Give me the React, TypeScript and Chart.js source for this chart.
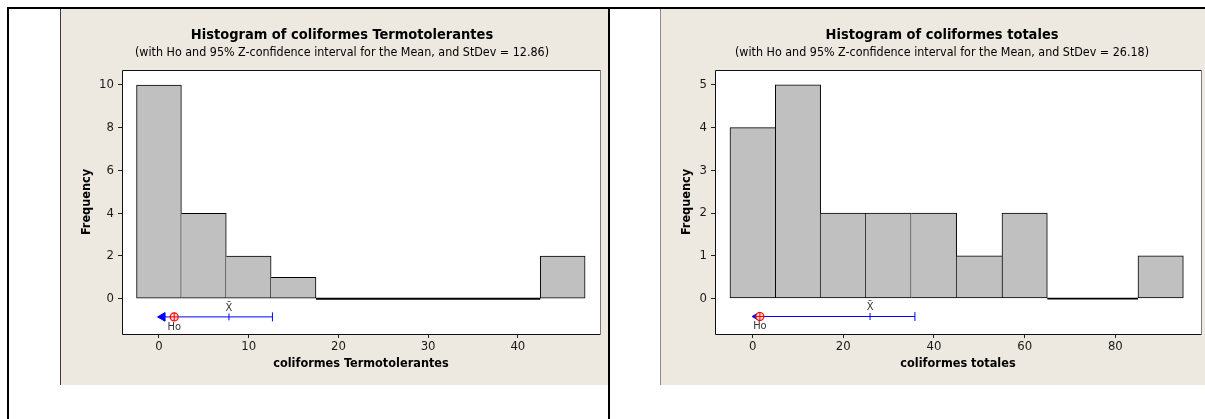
import React, { useEffect, useRef } from 'react';
import { Chart, registerables } from 'chart.js';

Chart.register(...registerables);

const FONT = "'DejaVu Sans Condensed', 'DejaVu Sans', sans-serif";

// ---- coliformes Termotolerantes ----
const termoBinCenters = [0, 5, 10, 15, 20, 25, 30, 35, 40, 45];
const termoCounts = [10, 4, 2, 1, 0, 0, 0, 0, 0, 2];
const termoXTicks = [0, 10, 20, 30, 40];
const termoYTicks = [0, 2, 4, 6, 8, 10];
const termoHo = 1.7;
const termoMean = 7.8;
const termoUpper = 12.65;
const termoArrowTip = 0.4;

// ---- coliformes totales ----
const totalBinCenters = [0, 10, 20, 30, 40, 50, 60, 70, 80, 90];
const totalCounts = [4, 5, 2, 2, 2, 1, 2, 0, 0, 1];
const totalXTicks = [0, 20, 40, 60, 80];
const totalYTicks = [0, 1, 2, 3, 4, 5];
const totalHo = 1.6;
const totalMean = 25.9;
const totalUpper = 35.8;
const totalArrowTip = 1.0;

type PanelCfg = {
  title: string;
  subtitle: string;
  xLabel: string;
  centers: number[];
  counts: number[];
  binWidth: number;
  xTicks: number[];
  yTicks: number[];
  xMin: number;
  xMax: number;
  yMin: number;
  yMax: number;
  ciY: number;
  ho: number;
  mean: number;
  upper: number;
  arrowTip: number;
  yAxisWidth: number;
  rightPad: number;
};

const termoCfg: PanelCfg = {
  title: 'Histogram of coliformes Termotolerantes',
  subtitle: '(with Ho and 95% Z-confidence interval for the Mean, and StDev = 12.86)',
  xLabel: 'coliformes Termotolerantes',
  centers: termoBinCenters,
  counts: termoCounts,
  binWidth: 5,
  xTicks: termoXTicks,
  yTicks: termoYTicks,
  xMin: -4.12,
  xMax: 49.16,
  yMin: -1.65,
  yMax: 10.7,
  ciY: -0.85,
  ho: termoHo,
  mean: termoMean,
  upper: termoUpper,
  arrowTip: termoArrowTip,
  yAxisWidth: 61,
  rightPad: 23,
};

const totalCfg: PanelCfg = {
  title: 'Histogram of coliformes totales',
  subtitle: '(with Ho and 95% Z-confidence interval for the Mean, and StDev = 26.18)',
  xLabel: 'coliformes totales',
  centers: totalBinCenters,
  counts: totalCounts,
  binWidth: 10,
  xTicks: totalXTicks,
  yTicks: totalYTicks,
  xMin: -8.3,
  xMax: 98.9,
  yMin: -0.83,
  yMax: 5.35,
  ciY: -0.42,
  ho: totalHo,
  mean: totalMean,
  upper: totalUpper,
  arrowTip: totalArrowTip,
  yAxisWidth: 54,
  rightPad: 22,
};

const CANVAS_W = 562;
const CANVAS_H = 376;

function Histogram({ cfg }: { cfg: PanelCfg }) {
  const ref = useRef<HTMLCanvasElement | null>(null);

  useEffect(() => {
    if (!ref.current) return;
    const { centers, counts, binWidth } = cfg;

    const barData = centers.map((c, i) => ({ x: c, y: counts[i] }));
    const zeroLine: any[] = [];
    centers.forEach((c, i) => {
      if (counts[i] === 0) {
        zeroLine.push({ x: c - binWidth / 2, y: 0 }, { x: c + binWidth / 2, y: 0 });
      } else {
        zeroLine.push({ x: c, y: null });
      }
    });

    const borderFor = (ctx: any) => {
      const i = ctx.dataIndex;
      const cur = counts[i];
      const prev = i > 0 ? counts[i - 1] : -1;
      const next = i < counts.length - 1 ? counts[i + 1] : -1;
      return {
        top: 1,
        bottom: 1,
        left: prev < cur ? 1 : 0,
        right: next <= cur ? 1 : 0,
      };
    };

    const decor = {
      id: 'panelDecor',
      beforeDraw(chart: any) {
        const { ctx, chartArea: a } = chart;
        ctx.save();
        ctx.fillStyle = '#ffffff';
        ctx.fillRect(a.left, a.top, a.right - a.left, a.bottom - a.top);
        ctx.restore();
      },
      afterDatasetsDraw(chart: any) {
        const { ctx, chartArea: a, scales } = chart;
        ctx.save();
        ctx.lineWidth = 1;
        ctx.strokeStyle = '#111111';
        ctx.beginPath();
        ctx.moveTo(a.right, a.top + 0.5);
        ctx.lineTo(a.left + 0.5, a.top + 0.5);
        ctx.lineTo(a.left + 0.5, a.bottom + 0.5);
        ctx.lineTo(a.right, a.bottom + 0.5);
        ctx.stroke();
        ctx.strokeStyle = '#7a7a7a';
        ctx.beginPath();
        ctx.moveTo(a.right + 0.5, a.top);
        ctx.lineTo(a.right + 0.5, a.bottom + 1);
        ctx.stroke();
        const yCi = scales.y.getPixelForValue(cfg.ciY);
        ctx.fillStyle = '#333333';
        ctx.font = `11px ${FONT}`;
        ctx.textAlign = 'center';
        ctx.textBaseline = 'middle';
        ctx.fillText('X\u0304', scales.x.getPixelForValue(cfg.mean), yCi - 9);
        ctx.fillText('Ho', scales.x.getPixelForValue(cfg.ho), yCi + 10);
        ctx.restore();
      },
      afterDraw(chart: any) {
        const { ctx } = chart;
        ctx.save();
        ctx.fillStyle = '#000000';
        ctx.textAlign = 'center';
        ctx.textBaseline = 'middle';
        ctx.font = `bold 14.5px ${FONT}`;
        ctx.fillText(cfg.title, chart.width / 2, 26);
        ctx.font = `12.4px ${FONT}`;
        ctx.fillText(cfg.subtitle, chart.width / 2, 43.7);
        ctx.restore();
      },
    };

    const blue = '#0000ff';
    const red = '#ff0000';

    const chart = new Chart(ref.current, {
      type: 'bar',
      data: {
        datasets: [
          {
            type: 'line',
            data: [{ x: cfg.ho, y: cfg.ciY }],
            showLine: false,
            pointStyle: 'cross',
            pointRadius: 4,
            pointBorderColor: red,
            pointBorderWidth: 1,
            order: 0,
          } as any,
          {
            type: 'line',
            data: [{ x: cfg.ho, y: cfg.ciY }],
            showLine: false,
            pointStyle: 'circle',
            pointRadius: 4,
            pointBackgroundColor: '#ffd6d6',
            pointBorderColor: red,
            pointBorderWidth: 1.2,
            order: 1,
          } as any,
          {
            type: 'line',
            data: [{ x: cfg.arrowTip, y: cfg.ciY }],
            showLine: false,
            pointStyle: 'triangle',
            rotation: -90,
            pointRadius: 5,
            pointBackgroundColor: blue,
            pointBorderColor: blue,
            pointBorderWidth: 1,
            order: 2,
          } as any,
          {
            type: 'line',
            data: [{ x: cfg.mean, y: cfg.ciY }],
            showLine: false,
            pointStyle: 'line',
            rotation: 90,
            pointRadius: 3.5,
            pointBorderColor: blue,
            pointBorderWidth: 1,
            order: 3,
          } as any,
          {
            type: 'line',
            data: [{ x: cfg.upper, y: cfg.ciY }],
            showLine: false,
            pointStyle: 'line',
            rotation: 90,
            pointRadius: 4.5,
            pointBorderColor: blue,
            pointBorderWidth: 1,
            order: 4,
          } as any,
          {
            type: 'line',
            data: [
              { x: cfg.arrowTip, y: cfg.ciY },
              { x: cfg.upper, y: cfg.ciY },
            ],
            borderColor: blue,
            borderWidth: 1,
            pointRadius: 0,
            order: 5,
          } as any,
          {
            type: 'line',
            data: zeroLine,
            borderColor: '#000000',
            borderWidth: 1.8,
            pointRadius: 0,
            spanGaps: false,
            order: 6,
          } as any,
          {
            type: 'bar',
            data: barData,
            backgroundColor: '#c0c0c0',
            borderColor: '#000000',
            borderWidth: borderFor,
            borderSkipped: false,
            barPercentage: 1,
            categoryPercentage: 1,
            order: 7,
          } as any,
        ],
      },
      options: {
        responsive: false,
        animation: false,
        devicePixelRatio: 1,
        layout: { padding: { left: 0, right: cfg.rightPad, top: 61, bottom: 0 } },
        plugins: {
          legend: { display: false },
          tooltip: { enabled: false },
          title: { display: false },
        },
        scales: {
          x: {
            type: 'linear',
            min: cfg.xMin,
            max: cfg.xMax,
            offset: false,
            afterBuildTicks: (s: any) => {
              s.ticks = cfg.xTicks.map((v) => ({ value: v }));
            },
            afterFit: (s: any) => {
              s.height = CANVAS_H - 61 - 264;
            },
            ticks: {
              font: { family: FONT, size: 13 },
              color: '#1a1a1a',
              padding: 1,
              maxRotation: 0,
              autoSkip: false,
            },
            grid: {
              offset: false,
              drawOnChartArea: false,
              drawTicks: true,
              tickLength: 4,
              color: '#222222',
            },
            border: { display: false },
            title: {
              display: true,
              text: cfg.xLabel,
              font: { family: FONT, size: 12.6, weight: 'bold' },
              color: '#000000',
              padding: { top: 0, bottom: 14 },
            },
          },
          y: {
            type: 'linear',
            min: cfg.yMin,
            max: cfg.yMax,
            afterBuildTicks: (s: any) => {
              s.ticks = cfg.yTicks.map((v) => ({ value: v }));
            },
            afterFit: (s: any) => {
              s.width = cfg.yAxisWidth;
            },
            ticks: {
              font: { family: FONT, size: 13 },
              color: '#1a1a1a',
              padding: 4,
              autoSkip: false,
            },
            grid: {
              offset: false,
              drawOnChartArea: false,
              drawTicks: true,
              tickLength: 4,
              color: '#222222',
            },
            border: { display: false },
            title: {
              display: true,
              text: 'Frequency',
              font: { family: FONT, size: 12.6, weight: 'bold' },
              color: '#000000',
              padding: { top: 18, bottom: 0 },
            },
          },
        },
      } as any,
      plugins: [decor],
    });

    return () => chart.destroy();
  }, [cfg]);

  return (
    <canvas
      ref={ref}
      width={CANVAS_W}
      height={CANVAS_H}
      style={{ display: 'block', width: CANVAS_W, height: CANVAS_H }}
    />
  );
}

export default function App() {
  const beige = '#ede9e0';
  return (
    <div
      style={{
        position: 'absolute',
        left: 0,
        top: 0,
        width: 1205,
        height: 419,
        overflow: 'hidden',
        background: '#ffffff',
      }}
    >
      <div
        style={{
          position: 'absolute',
          left: 60,
          top: 9,
          width: 548,
          height: 376,
          background: beige,
          borderLeft: '1px solid #3a3a3a',
          boxSizing: 'border-box',
          overflow: 'hidden',
        }}
      >
        <div style={{ position: 'absolute', left: 0, top: 0 }}>
          <Histogram cfg={termoCfg} />
        </div>
      </div>
      <div
        style={{
          position: 'absolute',
          left: 660,
          top: 9,
          width: 545,
          height: 376,
          background: beige,
          borderLeft: '1px solid #8a8a8a',
          boxSizing: 'border-box',
          overflow: 'hidden',
        }}
      >
        <div style={{ position: 'absolute', left: 0, top: 0 }}>
          <Histogram cfg={totalCfg} />
        </div>
      </div>
      <div style={{ position: 'absolute', left: 7, top: 7, width: 1198, height: 2, background: '#000' }} />
      <div style={{ position: 'absolute', left: 7, top: 7, width: 2, height: 412, background: '#000' }} />
      <div style={{ position: 'absolute', left: 608, top: 7, width: 2, height: 412, background: '#000' }} />
    </div>
  );
}
